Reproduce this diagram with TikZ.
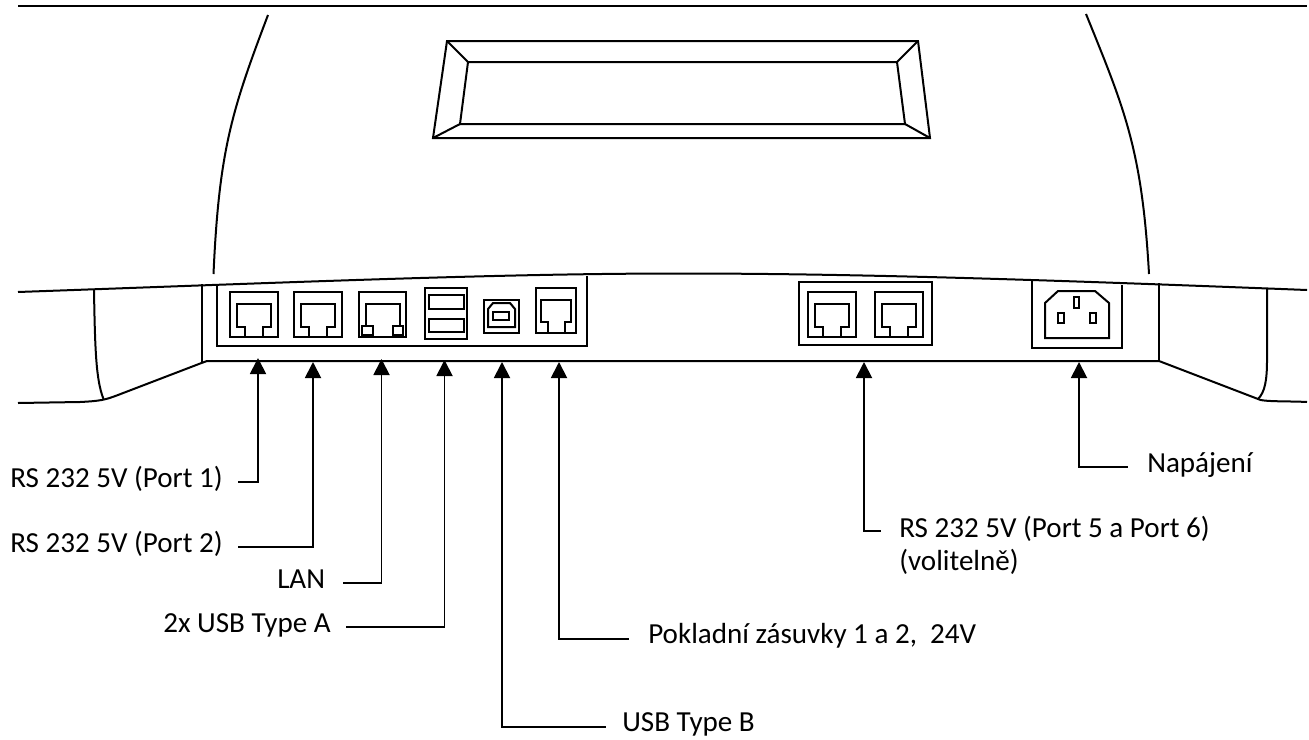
\documentclass[tikz,border=0pt]{standalone}
\usepackage{fontspec}
\setmainfont{Carlito}
\usetikzlibrary{arrows.meta}
\tikzset{
    outline/.style={line width=1.5pt},
    pointer/.style={line width=1.4pt,{Triangle[width=12pt,length=12pt]}-},
    caption/.style={anchor=base west,inner sep=0pt,font=\fontsize{21.8pt}{24.75pt}\selectfont,align=left},
    jack/.pic={
        \draw[outline] (-24,-23) rectangle (24,22);
        \draw[outline] (-9,22) -- (-9,12) -- (-17,12) -- (-17,-11) -- (17,-11) -- (17,12) -- (9,12) -- (9,22);
    }
}
\begin{document}
\begin{tikzpicture}[x=0.75pt,y=-0.75pt]
    \useasboundingbox (0,0) rectangle (1309,739);
    % top edge and housing
    \draw[outline] (18,6) -- (1307,6);
    \draw[outline] (213.5,274) .. controls (219,150) and (232,110) .. (268,15);
    \draw[outline] (1149,274) .. controls (1142,150) and (1125,110) .. (1086,14);
    % handle
    \draw[outline] (447,41) -- (918,41) -- (930,138) -- (433,138) -- cycle;
    \draw[outline] (468,62) -- (897,62) -- (905,124) -- (460,124) -- cycle;
    \draw[outline] (447,41) -- (468,62) (918,41) -- (897,62);
    \draw[outline] (433,138) -- (460,124) (930,138) -- (905,124);
    % base
    \draw[outline] (18,292) .. controls (300,282) and (500,273.5) .. (680,273.5) .. controls (860,273.5) and (1050,280) .. (1307,290);
    \draw[outline] (18,403) -- (80,402) .. controls (100,401) and (105,400) .. (118,395) -- (201.5,363) -- (207,361) -- (1159,361) -- (1258,399) .. controls (1262,402) and (1290,401) .. (1307,402);
    \draw[outline] (201.5,284) -- (201.5,363);
    \draw[outline] (1159,283) -- (1159,361);
    \draw[outline] (94,290) .. controls (95,350) and (96,380) .. (103.5,399);
    \draw[outline] (1267,289) -- (1267,360) .. controls (1267,380) and (1265,392) .. (1258,399);
    % left panel
    \draw[outline] (217,284) -- (217,346) -- (587,346) -- (587,276);
    \pic at (253.5,315) {jack};
    \pic at (318,315) {jack};
    % lan port
    \draw[outline] (359,292) rectangle (406,337);
    \draw[outline] (373,337) -- (373,326) -- (366,326) -- (366,304) -- (400,304) -- (400,326) -- (393,326) -- (393,337);
    \draw[outline] (362,326) rectangle (373,335);
    \draw[outline] (393,326) rectangle (403,335);
    % usb a
    \draw[outline] (425,288) rectangle (467,339);
    \draw[outline] (429,295) rectangle (464,309);
    \draw[outline] (429,319) rectangle (464,332);
    % usb b
    \draw[outline] (484,300) rectangle (519,333);
    \draw[outline] (488,327) -- (488,309) -- (493,303) -- (510,303) -- (515,309) -- (515,327) -- cycle;
    \draw[outline] (493,312) rectangle (509,320);
    % drawer port
    \draw[outline] (536,288) rectangle (576,333);
    \draw[outline] (548,333) -- (548,322) -- (541,322) -- (541,300) -- (571,300) -- (571,322) -- (565,322) -- (565,333);
    % right panel
    \draw[outline] (799,282) rectangle (932,345);
    \pic at (832,315) {jack};
    \pic at (899,315) {jack};
    % power socket
    \draw[outline] (1032,281) -- (1032,348) -- (1122,348) -- (1122,285);
    \draw[outline] (1045,303) -- (1058,291) -- (1095,291) -- (1109,303) -- (1109,338) -- (1045,338) -- cycle;
    \draw[outline] (1074,297) rectangle (1079,308);
    \draw[outline] (1058,313) rectangle (1064,323);
    \draw[outline] (1090,313) rectangle (1096,323);
    % labels
    \node[caption] (Port1) at (10,487) {RS 232 5V (Port 1)};
    \node[caption] (Port2) at (10,552) {RS 232 5V (Port 2)};
    \node[caption] (Lan) at (277,588) {LAN};
    \node[caption] (UsbA) at (163,632) {2x USB Type A};
    \node[caption] (UsbB) at (622,731) {USB Type B};
    \node[caption] (Drawer) at (648,643) {Pokladní zásuvky 1 a 2,\ \ 24V};
    \node[caption] (Port56) at (899,570) {RS 232 5V (Port 5 a Port 6)\\(volitelně)};
    \node[caption] (Power) at (1147,472) {Napájení};
    % tips
    \coordinate (TipA) at (258,358);
    \coordinate (TipB) at (313,362);
    \coordinate (TipC) at (381.5,359);
    \coordinate (TipD) at (444.5,360);
    \coordinate (TipE) at (502,362);
    \coordinate (TipF) at (559,362);
    \coordinate (TipG) at (864,362);
    \coordinate (TipH) at (1079,362);
    \draw[pointer] (TipA) |- ([shift={(15,-5)}]Port1.base east);
    \draw[pointer] (TipB) |- ([shift={(15,-5)}]Port2.base east);
    \draw[pointer] (TipC) |- ([shift={(18,-5)}]Lan.base east);
    \draw[pointer] (TipD) |- ([shift={(15,-5)}]UsbA.base east);
    \draw[pointer] (TipE) |- ([shift={(-16,-4)}]UsbB.base west);
    \draw[pointer] (TipF) |- ([shift={(-19,-4)}]Drawer.base west);
    \draw[pointer] (TipG) |- ([shift={(-18,-39)}]Port56.base west);
    \draw[pointer] (TipH) |- ([shift={(-19,-5)}]Power.base west);
\end{tikzpicture}
\end{document}
